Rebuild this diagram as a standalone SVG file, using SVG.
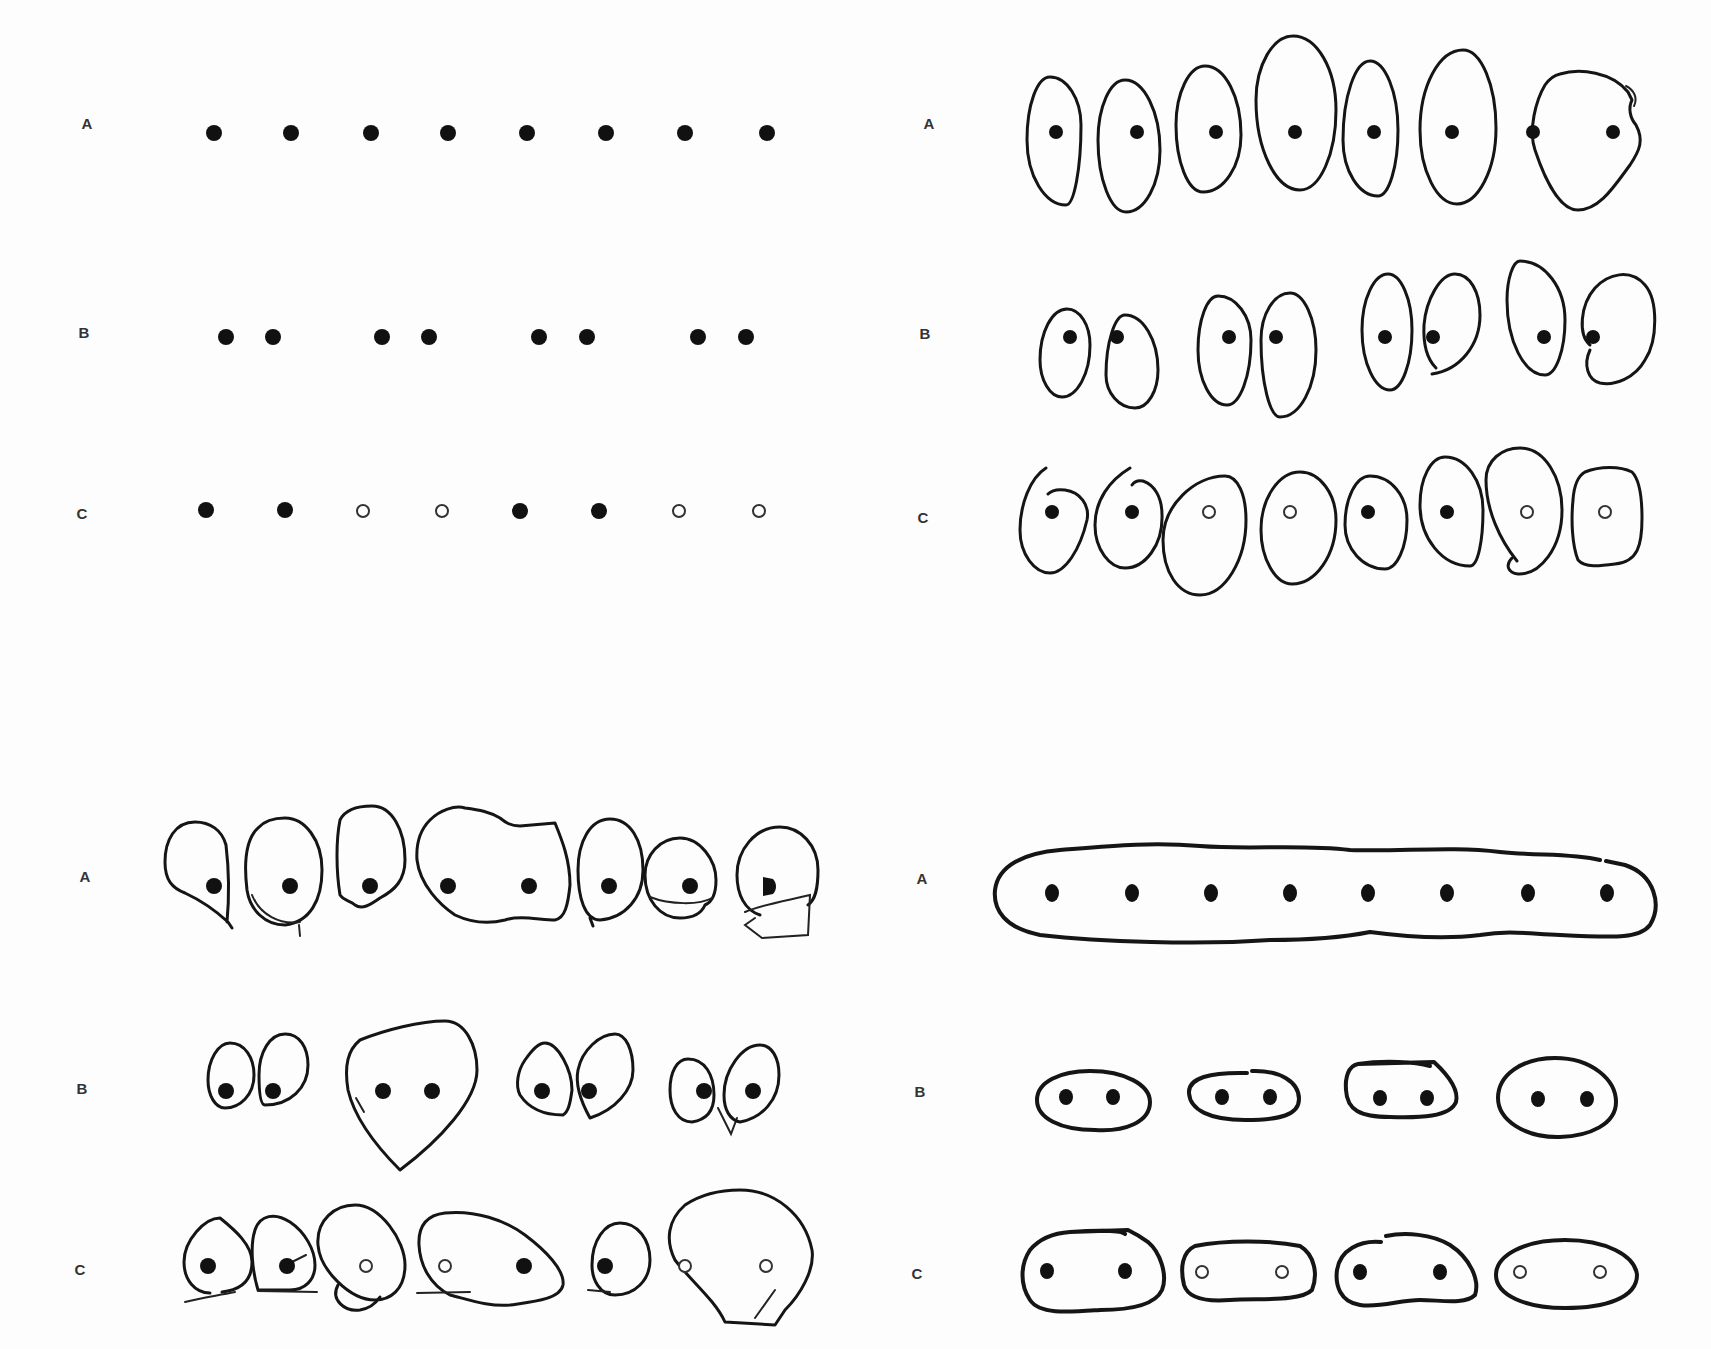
<svg xmlns="http://www.w3.org/2000/svg" width="1711" height="1349" viewBox="0 0 1711 1349">
<style>
.lbl{font-family:"Liberation Sans",Arial,sans-serif;font-size:15px;font-weight:bold;fill:#333;text-anchor:middle}
.d{fill:#111}
.o{fill:#fff;stroke:#333;stroke-width:2}
.l{fill:none;stroke:#151515;stroke-width:3;stroke-linecap:round;stroke-linejoin:round}
.t{fill:none;stroke:#151515;stroke-width:4;stroke-linecap:round;stroke-linejoin:round}
.s{fill:none;stroke:#222;stroke-width:2;stroke-linecap:round}
</style>
<rect width="1711" height="1349" fill="#fdfdfd"/>

<!-- Panel 1: top-left -->
<g id="p1">
<g id="p1-A">
<text class="lbl" x="87" y="129">A</text>
<circle class="d" cx="214" cy="133" r="8"/><circle class="d" cx="291" cy="133" r="8"/><circle class="d" cx="371" cy="133" r="8"/><circle class="d" cx="448" cy="133" r="8"/>
<circle class="d" cx="527" cy="133" r="8"/><circle class="d" cx="606" cy="133" r="8"/><circle class="d" cx="685" cy="133" r="8"/><circle class="d" cx="767" cy="133" r="8"/>
</g>
<g id="p1-B">
<text class="lbl" x="84" y="338">B</text>
<circle class="d" cx="226" cy="337" r="8"/><circle class="d" cx="273" cy="337" r="8"/><circle class="d" cx="382" cy="337" r="8"/><circle class="d" cx="429" cy="337" r="8"/>
<circle class="d" cx="539" cy="337" r="8"/><circle class="d" cx="587" cy="337" r="8"/><circle class="d" cx="698" cy="337" r="8"/><circle class="d" cx="746" cy="337" r="8"/>
</g>
<g id="p1-C">
<text class="lbl" x="82" y="519">C</text>
<circle class="d" cx="206" cy="510" r="8"/><circle class="d" cx="285" cy="510" r="8"/><circle class="o" cx="363" cy="511" r="6"/><circle class="o" cx="442" cy="511" r="6"/>
<circle class="d" cx="520" cy="511" r="8"/><circle class="d" cx="599" cy="511" r="8"/><circle class="o" cx="679" cy="511" r="6"/><circle class="o" cx="759" cy="511" r="6"/>
</g>
</g>

<!-- Panel 2: top-right -->
<g id="p2">
<g id="p2-A">
<text class="lbl" x="929" y="129">A</text>
<path class="l" d="M1050,77 C1067,77 1081,99 1081,125 C1081,169 1074,205 1066,205 C1045,205 1027,176 1027,140 C1027,105 1037,77 1050,77 Z"/>
<path class="l" d="M1125,80 C1144,80 1160,112 1160,150 C1160,184 1145,212 1126,212 C1111,212 1098,180 1098,140 C1098,107 1110,80 1125,80 Z"/>
<path class="l" d="M1205,66 C1225,66 1241,97 1241,135 C1241,166 1224,192 1203,192 C1188,192 1176,162 1176,125 C1176,93 1189,66 1205,66 Z"/>
<path class="l" d="M1293,36 C1317,36 1336,69 1336,110 C1336,154 1320,190 1300,190 C1276,190 1256,150 1256,100 C1256,65 1273,36 1293,36 Z"/>
<path class="l" d="M1370,61 C1385,61 1398,92 1398,130 C1398,166 1389,196 1378,196 C1359,196 1343,171 1343,140 C1343,97 1355,61 1370,61 Z"/>
<path class="l" d="M1463,50 C1481,50 1496,85 1496,128 C1496,170 1478,204 1457,204 C1437,204 1420,171 1420,130 C1420,86 1439,50 1463,50 Z"/>
<path class="l" d="M1560,74 C1580,68 1612,72 1628,92 L1632,100 C1628,108 1630,118 1636,125 C1644,140 1640,150 1630,165 C1615,185 1600,210 1578,210 C1560,210 1545,180 1535,150 C1528,130 1536,100 1545,85 C1550,78 1555,75 1560,74 Z"/>
<path class="s" d="M1626,86 C1634,90 1638,98 1634,106"/>
<circle class="d" cx="1056" cy="132" r="7"/><circle class="d" cx="1137" cy="132" r="7"/><circle class="d" cx="1216" cy="132" r="7"/><circle class="d" cx="1295" cy="132" r="7"/>
<circle class="d" cx="1374" cy="132" r="7"/><circle class="d" cx="1452" cy="132" r="7"/><circle class="d" cx="1533" cy="132" r="7"/><circle class="d" cx="1613" cy="132" r="7"/>
</g>
<g id="p2-B">
<text class="lbl" x="925" y="339">B</text>
<path class="l" d="M1067,309 C1080,309 1090,325 1090,345 C1090,374 1077,397 1062,397 C1050,397 1040,380 1040,360 C1040,332 1052,309 1067,309 Z"/>
<path class="l" d="M1125,315 C1143,315 1158,340 1158,370 C1158,391 1148,408 1135,408 C1119,408 1106,393 1106,375 C1106,342 1115,315 1125,315 Z"/>
<path class="l" d="M1218,296 C1236,296 1251,316 1251,340 C1251,376 1240,405 1227,405 C1211,405 1198,380 1198,350 C1198,320 1207,296 1218,296 Z"/>
<path class="l" d="M1290,293 C1304,293 1316,319 1316,350 C1316,387 1300,417 1280,417 C1270,417 1261,383 1261,340 C1261,314 1274,293 1290,293 Z"/>
<path class="l" d="M1388,274 C1401,274 1412,299 1412,330 C1412,363 1402,390 1390,390 C1375,390 1362,363 1362,330 C1362,299 1374,274 1388,274 Z"/>
<path class="l" d="M1432,374 C1460,370 1480,345 1480,315 C1480,292 1470,274 1455,274 C1440,274 1426,300 1424,325 C1423,345 1428,360 1436,368"/>
<path class="l" d="M1520,261 C1545,261 1565,288 1565,320 C1565,350 1556,375 1545,375 C1524,375 1507,341 1507,300 C1507,279 1513,261 1520,261 Z"/>
<path class="l" d="M1590,345 C1578,335 1580,305 1595,288 C1608,274 1630,268 1645,285 C1658,300 1658,340 1645,360 C1635,378 1615,386 1600,383 C1588,380 1583,365 1590,350"/>
<circle class="d" cx="1070" cy="337" r="7"/><circle class="d" cx="1117" cy="337" r="7"/><circle class="d" cx="1229" cy="337" r="7"/><circle class="d" cx="1276" cy="337" r="7"/>
<circle class="d" cx="1385" cy="337" r="7"/><circle class="d" cx="1433" cy="337" r="7"/><circle class="d" cx="1544" cy="337" r="7"/><circle class="d" cx="1593" cy="337" r="7"/>
</g>
<g id="p2-C">
<text class="lbl" x="923" y="523">C</text>
<path class="l" d="M1046,468 C1030,478 1020,505 1020,530 C1020,555 1035,573 1050,573 C1065,573 1080,550 1087,520 C1090,505 1080,492 1065,490 C1058,489 1052,490 1048,494"/>
<path class="l" d="M1130,468 C1110,480 1095,500 1095,525 C1095,550 1110,568 1125,568 C1145,568 1163,545 1162,515 C1162,498 1155,485 1143,481 C1138,480 1134,482 1132,485"/>
<path class="l" d="M1225,476 C1238,476 1246,495 1246,520 C1246,560 1225,595 1200,595 C1178,595 1163,572 1163,540 C1163,505 1195,476 1225,476 Z"/>
<path class="l" d="M1300,472 C1320,472 1336,494 1336,520 C1336,555 1316,584 1292,584 C1275,584 1261,558 1261,530 C1261,498 1279,472 1300,472 Z"/>
<path class="l" d="M1370,476 C1391,476 1407,496 1407,520 C1407,547 1397,569 1385,569 C1363,569 1345,549 1345,525 C1345,498 1356,476 1370,476 Z"/>
<path class="l" d="M1445,457 C1466,457 1483,481 1483,510 C1483,541 1478,566 1470,566 C1442,566 1420,538 1420,505 C1420,478 1431,457 1445,457 Z"/>
<path class="l" d="M1520,448 C1545,448 1562,478 1562,510 C1562,548 1540,575 1518,574 C1508,573 1505,565 1512,558 M1517,561 C1500,540 1486,510 1486,480 C1486,460 1502,448 1520,448"/>
<path class="l" d="M1585,472 C1600,466 1620,466 1632,472 C1640,480 1642,500 1642,518 C1642,545 1638,562 1615,564 C1600,566 1585,568 1578,560 C1572,545 1571,520 1573,500 C1574,485 1578,476 1585,472 Z"/>
<circle class="d" cx="1052" cy="512" r="7"/><circle class="d" cx="1132" cy="512" r="7"/><circle class="o" cx="1209" cy="512" r="6"/><circle class="o" cx="1290" cy="512" r="6"/>
<circle class="d" cx="1368" cy="512" r="7"/><circle class="d" cx="1447" cy="512" r="7"/><circle class="o" cx="1527" cy="512" r="6"/><circle class="o" cx="1605" cy="512" r="6"/>
</g>
</g>

<!-- Panel 3: bottom-left -->
<g id="p3">
<g id="p3-A">
<text class="lbl" x="85" y="882">A</text>
<path class="l" d="M226,845 C222,830 210,822 195,822 C175,822 165,840 165,862 C165,880 172,888 185,893 C200,900 215,910 228,922 L232,928 M226,845 C229,870 229,900 227,922"/>
<path class="l" d="M285,818 C305,818 322,840 322,870 C322,900 310,922 285,925 C265,925 250,910 247,890 C244,865 245,840 258,828 C265,820 275,818 285,818 Z"/>
<path class="s" d="M252,895 C260,915 280,925 300,922 M299,925 L300,936"/>
<path class="l" d="M372,806 C392,806 405,830 405,860 C405,880 395,890 380,898 C370,905 362,910 355,905 C350,900 345,902 340,895 C336,870 336,840 340,820 C345,810 358,806 372,806 Z"/>
<path class="l" d="M430,820 C440,810 455,805 465,808 C480,810 490,812 500,818 C505,822 510,826 520,826 L555,823 C562,840 570,860 570,885 C568,905 565,918 555,920 C540,920 520,915 505,920 C485,925 470,922 455,915 C440,905 420,885 417,860 C416,845 420,830 430,820 Z"/>
<path class="l" d="M610,819 C630,819 643,840 643,870 C643,898 625,918 600,920 C585,920 578,898 578,870 C578,842 590,819 610,819 Z M590,918 L593,926"/>
<path class="l" d="M680,838 C700,838 716,860 716,880 C716,895 712,902 705,905 M680,838 C660,838 645,855 645,875 C645,900 660,918 680,918 C695,918 702,912 705,905"/>
<path class="s" d="M650,897 C670,905 700,905 712,898"/>
<path class="l" d="M780,827 C800,827 818,845 818,870 C818,890 815,900 808,905 M780,827 C755,827 737,850 737,875 C737,895 745,910 760,915"/>
<path class="s" d="M745,912 C760,905 790,900 810,895 L808,935 L762,938 L745,925 L755,918"/>
<circle class="d" cx="214" cy="886" r="8"/><circle class="d" cx="290" cy="886" r="8"/><circle class="d" cx="370" cy="886" r="8"/><circle class="d" cx="448" cy="886" r="8"/>
<circle class="d" cx="529" cy="886" r="8"/><circle class="d" cx="609" cy="886" r="8"/><circle class="d" cx="690" cy="886" r="8"/>
<path class="d" d="M763,877 L773,879 C777,883 777,890 773,894 L763,896 Z"/>
</g>
<g id="p3-B">
<text class="lbl" x="82" y="1094">B</text>
<path class="l" d="M230,1043 C245,1043 254,1058 254,1075 C254,1095 240,1108 225,1108 C215,1108 208,1095 208,1080 C208,1060 218,1043 230,1043 Z"/>
<path class="l" d="M285,1034 C300,1034 308,1048 308,1065 C308,1088 290,1105 265,1105 C260,1105 259,1090 259,1075 C259,1052 270,1034 285,1034 Z"/>
<path class="l" d="M445,1021 C465,1021 477,1045 477,1070 C477,1100 440,1140 400,1170 C380,1150 355,1120 348,1090 C344,1065 348,1050 360,1040 C385,1030 420,1021 445,1021 Z"/>
<path class="s" d="M356,1098 L364,1112"/>
<path class="l" d="M545,1043 C558,1043 572,1070 572,1090 C570,1105 568,1112 563,1115 C545,1115 530,1110 520,1095 C515,1085 518,1070 525,1060 C532,1050 538,1043 545,1043 Z"/>
<path class="l" d="M615,1034 C626,1034 633,1050 633,1070 C633,1090 615,1110 590,1118 C580,1100 575,1085 578,1070 C582,1050 600,1034 615,1034 Z"/>
<path class="l" d="M688,1059 C705,1059 714,1075 714,1095 C714,1112 705,1120 692,1122 C678,1122 670,1108 670,1090 C670,1072 677,1059 688,1059 Z"/>
<path class="s" d="M718,1108 L731,1134 L737,1118"/>
<path class="l" d="M760,1045 C772,1045 779,1058 779,1075 C779,1100 762,1118 740,1122 C730,1120 724,1110 724,1095 C724,1070 742,1045 760,1045 Z"/>
<circle class="d" cx="226" cy="1091" r="8"/><circle class="d" cx="273" cy="1091" r="8"/><circle class="d" cx="383" cy="1091" r="8"/><circle class="d" cx="432" cy="1091" r="8"/>
<circle class="d" cx="542" cy="1091" r="8"/><circle class="d" cx="589" cy="1091" r="8"/><circle class="d" cx="704" cy="1091" r="8"/><circle class="d" cx="753" cy="1091" r="8"/>
</g>
<g id="p3-C">
<text class="lbl" x="80" y="1275">C</text>
<path class="l" d="M210,1293 C195,1293 184,1280 184,1262 C184,1240 205,1218 220,1218 C235,1230 252,1245 252,1262 C252,1282 240,1290 222,1292"/>
<path class="s" d="M185,1302 C200,1298 215,1296 235,1292"/>
<path class="l" d="M258,1290 C252,1270 250,1245 255,1230 C260,1215 275,1212 290,1222 C305,1232 315,1250 315,1265 C315,1280 305,1290 290,1290 L258,1290"/>
<path class="s" d="M258,1291 L317,1292 M292,1262 L306,1255"/>
<path class="l" d="M355,1205 C380,1205 405,1240 405,1265 C405,1290 390,1300 375,1300 C350,1300 320,1270 318,1245 C316,1220 335,1205 355,1205 Z"/>
<path class="l" d="M338,1285 C330,1300 345,1312 360,1310 C372,1308 378,1300 380,1297"/>
<path class="l" d="M445,1213 C475,1210 505,1220 525,1235 C545,1250 565,1270 563,1285 C560,1300 530,1302 510,1305 C490,1307 470,1300 450,1295 C430,1285 420,1265 419,1245 C418,1225 428,1215 445,1213 Z"/>
<path class="s" d="M417,1293 L470,1292"/>
<path class="l" d="M620,1223 C638,1223 650,1240 650,1260 C650,1280 635,1295 615,1295 C600,1295 592,1280 592,1265 C592,1240 605,1223 620,1223 Z"/>
<path class="s" d="M588,1290 L610,1292"/>
<path class="l" d="M740,1190 C775,1190 805,1215 812,1250 C815,1270 800,1295 785,1310 L775,1325 L725,1322 C715,1300 690,1280 675,1260 C665,1240 668,1220 685,1205 C700,1195 720,1190 740,1190 Z"/>
<path class="s" d="M775,1290 L755,1318"/>
<circle class="d" cx="208" cy="1266" r="8"/><circle class="d" cx="287" cy="1266" r="8"/><circle class="o" cx="366" cy="1266" r="6"/><circle class="o" cx="445" cy="1266" r="6"/>
<circle class="d" cx="524" cy="1266" r="8"/><circle class="d" cx="605" cy="1266" r="8"/><circle class="o" cx="685" cy="1266" r="6"/><circle class="o" cx="766" cy="1266" r="6"/>
</g>
</g>

<!-- Panel 4: bottom-right -->
<g id="p4">
<g id="p4-A">
<text class="lbl" x="922" y="884">A</text>
<path class="t" d="M1060,850 C1110,846 1150,842 1200,846 C1250,850 1300,844 1350,850 C1400,852 1450,846 1500,852 C1540,856 1570,853 1600,860 M1606,861 L1625,865 C1655,875 1662,905 1650,925 C1640,938 1620,938 1560,935 C1530,934 1510,930 1480,935 C1440,940 1400,936 1370,932 C1340,938 1300,940 1270,940 C1200,945 1100,942 1040,935 C1005,928 993,910 995,890 C998,865 1025,853 1060,850"/>
<ellipse class="d" cx="1052" cy="893" rx="7" ry="9"/><ellipse class="d" cx="1132" cy="893" rx="7" ry="9"/><ellipse class="d" cx="1211" cy="893" rx="7" ry="9"/><ellipse class="d" cx="1290" cy="893" rx="7" ry="9"/>
<ellipse class="d" cx="1368" cy="893" rx="7" ry="9"/><ellipse class="d" cx="1447" cy="893" rx="7" ry="9"/><ellipse class="d" cx="1528" cy="893" rx="7" ry="9"/><ellipse class="d" cx="1607" cy="893" rx="7" ry="9"/>
</g>
<g id="p4-B">
<text class="lbl" x="920" y="1097">B</text>
<path class="t" d="M1090,1071 C1125,1071 1150,1085 1150,1102 C1150,1122 1125,1132 1095,1130 C1060,1130 1037,1118 1037,1100 C1037,1082 1060,1071 1090,1071 Z"/>
<path class="t" d="M1252,1071 C1280,1070 1299,1082 1299,1099 C1299,1115 1280,1120 1245,1120 C1210,1120 1190,1110 1189,1093 C1188,1078 1210,1072 1247,1073"/>
<path class="t" d="M1358,1064 C1385,1060 1415,1062 1430,1066 M1434,1062 C1448,1075 1459,1090 1456,1102 C1450,1117 1420,1118 1390,1117 C1360,1117 1347,1110 1346,1090 C1345,1078 1348,1066 1358,1064 Z"/>
<path class="t" d="M1555,1058 C1592,1058 1616,1080 1616,1102 C1616,1124 1590,1136 1560,1137 C1525,1138 1498,1120 1498,1098 C1498,1075 1522,1058 1555,1058 Z"/>
<ellipse class="d" cx="1066" cy="1097" rx="7" ry="8"/><ellipse class="d" cx="1113" cy="1097" rx="7" ry="8"/><ellipse class="d" cx="1222" cy="1097" rx="7" ry="8"/><ellipse class="d" cx="1270" cy="1097" rx="7" ry="8"/>
<ellipse class="d" cx="1380" cy="1098" rx="7" ry="8"/><ellipse class="d" cx="1427" cy="1098" rx="7" ry="8"/><ellipse class="d" cx="1538" cy="1099" rx="7" ry="8"/><ellipse class="d" cx="1587" cy="1099" rx="7" ry="8"/>
</g>
<g id="p4-C">
<text class="lbl" x="917" y="1279">C</text>
<path class="t" d="M1070,1232 C1100,1230 1120,1230 1125,1234 M1128,1230 C1140,1236 1145,1240 1148,1242 C1160,1252 1168,1275 1162,1290 C1155,1305 1130,1310 1100,1310 C1070,1312 1040,1315 1030,1300 C1020,1285 1020,1265 1030,1250 C1040,1238 1055,1233 1070,1232 Z"/>
<path class="t" d="M1195,1246 C1225,1240 1270,1240 1300,1246 C1315,1255 1318,1275 1312,1290 C1300,1302 1260,1298 1230,1300 C1205,1302 1188,1298 1184,1285 C1180,1268 1182,1252 1195,1246 Z"/>
<path class="t" d="M1386,1236 C1405,1232 1432,1234 1450,1245 C1470,1258 1480,1280 1475,1295 C1465,1305 1440,1300 1420,1300 C1400,1300 1380,1308 1360,1305 C1340,1302 1335,1285 1337,1270 C1340,1250 1360,1240 1381,1242"/>
<path class="t" d="M1565,1240 C1605,1240 1635,1255 1637,1275 C1637,1298 1605,1308 1565,1308 C1525,1308 1496,1295 1496,1275 C1496,1255 1525,1240 1565,1240 Z"/>
<ellipse class="d" cx="1047" cy="1271" rx="7" ry="8"/><ellipse class="d" cx="1125" cy="1271" rx="7" ry="8"/><circle class="o" cx="1202" cy="1272" r="6"/><circle class="o" cx="1282" cy="1272" r="6"/>
<ellipse class="d" cx="1360" cy="1272" rx="7" ry="8"/><ellipse class="d" cx="1440" cy="1272" rx="7" ry="8"/><circle class="o" cx="1520" cy="1272" r="6"/><circle class="o" cx="1600" cy="1272" r="6"/>
</g>
</g>
</svg>
